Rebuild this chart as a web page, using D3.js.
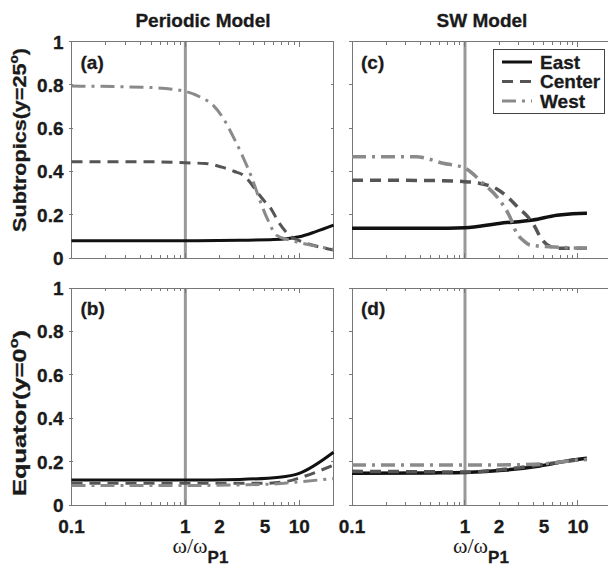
<!DOCTYPE html>
<meta charset="utf-8">
<style>
body { margin: 0; background: #fff; }
svg { display: block; font-family: "Liberation Sans", Arial, sans-serif; }
.frame { fill: none; stroke: #777; stroke-width: 1px; shape-rendering: crispEdges; }
.tick { stroke: #777; stroke-width: 1px; shape-rendering: crispEdges; }
.lbl { font-weight: bold; font-size: 19px; fill: #1a1a1a; stroke: #1a1a1a; stroke-width: 0.3px; }
.line { fill: none; }
</style>
<body>
<svg width="608" height="565"></svg>
<script src="https://d3js.org/d3.v7.min.js"></script>
<script>
// ---- data ----
var seriesNames = ["East", "Center", "West"];
var yTicks = [0, 0.2, 0.4, 0.6, 0.8, 1];
var yTickLabels = ["0", "0.2", "0.4", "0.6", "0.8", "1"];
var xTicks = [0.1, 1, 2, 5, 10];
var xTickLabels = ["0.1", "1", "2", "5", "10"];

// (a) periodic, subtropics
var aEastX = [0.1, 1, 3, 6, 8, 10, 14, 20];
var aEastY = [0.08, 0.08, 0.082, 0.085, 0.09, 0.098, 0.122, 0.152];
var aCenterX = [0.1, 0.5, 1, 1.5, 2.1, 2.7, 3.2, 3.7, 4.2, 5, 5.5, 6.7, 8.5, 10, 13, 20];
var aCenterY = [0.445, 0.445, 0.44, 0.437, 0.42, 0.40, 0.384, 0.35, 0.31, 0.26, 0.237, 0.16, 0.098, 0.08, 0.06, 0.037];
var aWestX = [0.1, 0.5, 1, 1.4, 1.75, 2.15, 2.63, 3.2, 3.8, 4.5, 5.3, 6.3, 8.2, 12, 20];
var aWestY = [0.795, 0.788, 0.77, 0.74, 0.707, 0.646, 0.561, 0.468, 0.376, 0.268, 0.176, 0.106, 0.083, 0.062, 0.04];

// (b) periodic, equator
var bEastX = [0.1, 1, 3, 6.7, 10, 20];
var bEastY = [0.115, 0.115, 0.118, 0.128, 0.146, 0.243];
var bCenterX = [0.1, 1, 5, 8, 10.8, 20];
var bCenterY = [0.1, 0.1, 0.1, 0.11, 0.13, 0.184];
var bWestX = [0.1, 1, 5, 10, 20];
var bWestY = [0.09, 0.09, 0.095, 0.107, 0.122];

// (c) SW, subtropics
var cEastX = [0.1, 0.5, 1, 2, 4, 6.5, 9, 12];
var cEastY = [0.137, 0.137, 0.14, 0.16, 0.176, 0.198, 0.205, 0.207];
var cCenterX = [0.1, 0.5, 1, 1.5, 1.9, 2.4, 3.0, 3.6, 4.1, 4.6, 5.6, 7, 12];
var cCenterY = [0.36, 0.358, 0.353, 0.34, 0.32, 0.28, 0.23, 0.19, 0.15, 0.1, 0.055, 0.045, 0.045];
var cWestX = [0.1, 0.37, 0.64, 1, 1.44, 1.96, 2.5, 2.87, 3.3, 3.76, 5.6, 12];
var cWestY = [0.468, 0.468, 0.438, 0.415, 0.346, 0.277, 0.19, 0.114, 0.08, 0.06, 0.052, 0.045];

// (d) SW, equator
var dEastX = [0.1, 0.5, 1, 2.3, 4.6, 9, 12];
var dEastY = [0.146, 0.148, 0.15, 0.161, 0.18, 0.207, 0.215];
var dCenterX = [0.1, 0.5, 1, 2.3, 4.6, 9, 12];
var dCenterY = [0.155, 0.153, 0.152, 0.165, 0.185, 0.205, 0.212];
var dWestX = [0.1, 1, 2.5, 5, 9, 12];
var dWestY = [0.184, 0.184, 0.185, 0.19, 0.205, 0.21];

var styles = {
  East:   {color: "#111", dash: null},
  Center: {color: "#555", dash: "11,7"},
  West:   {color: "#8a8a8a", dash: "14,6,3,6"}
};

function zip(xs, ys) { return xs.map(function(x, i) { return [x, ys[i]]; }); }

var svg = d3.select("svg");
var minorTicks = [];
[0.1, 1, 10].forEach(function(d) { for (var k = 1; k < 10; k++) { if (d * k <= 20) minorTicks.push(d * k); } });
minorTicks.push(20);

function panel(cfg) {
  var x = d3.scaleLog().domain([0.1, 20]).range(cfg.xr);
  var y = d3.scaleLinear().domain([0, 1]).range(cfg.yr);
  var g = svg.append("g");
  var x0 = cfg.xr[0], x1 = cfg.xr[1], y0 = cfg.yr[0], y1 = cfg.yr[1];

  // reference line at omega = omega_P1
  g.append("line").attr("x1", x(1)).attr("x2", x(1)).attr("y1", y0).attr("y2", y1)
    .attr("stroke", "#9a9a9a").attr("stroke-width", 3);

  g.append("rect").attr("class", "frame")
    .attr("x", x0).attr("y", y1).attr("width", x1 - x0).attr("height", y0 - y1);

  // x ticks top and bottom, pointing inward
  minorTicks.forEach(function(v) {
    var len = (v === 0.1 || v === 1 || v === 10) ? 5 : 3;
    g.append("line").attr("class", "tick").attr("x1", x(v)).attr("x2", x(v)).attr("y1", y0).attr("y2", y0 - len);
    g.append("line").attr("class", "tick").attr("x1", x(v)).attr("x2", x(v)).attr("y1", y1).attr("y2", y1 + len);
  });
  // y ticks
  yTicks.forEach(function(v) {
    g.append("line").attr("class", "tick").attr("x1", x0 - 3).attr("x2", x0 + 1).attr("y1", y(v)).attr("y2", y(v));
    g.append("line").attr("class", "tick").attr("x1", x1 - 3).attr("x2", x1).attr("y1", y(v)).attr("y2", y(v));
  });

  if (cfg.yLabels) {
    g.selectAll(".ytl").data(yTicks).enter().append("text")
      .attr("class", "lbl").attr("text-anchor", "end")
      .attr("x", x0 - 8).attr("y", function(d) { return y(d) + 7; })
      .text(function(d, i) { return yTickLabels[i]; });
  }
  if (cfg.xLabels) {
    g.selectAll(".xtl").data(xTicks).enter().append("text")
      .attr("class", "lbl").attr("text-anchor", "middle")
      .attr("x", function(d) { return x(d); }).attr("y", y0 + 28)
      .text(function(d, i) { return xTickLabels[i]; });
    var t = g.append("text").attr("x", x0 + 101).attr("y", 553).attr("fill", "#1a1a1a");
    t.append("tspan").attr("font-family", "'Liberation Serif', serif").attr("font-size", "22px").text("ω/ω");
    t.append("tspan").attr("font-weight", "bold").attr("font-size", "17px").attr("dy", 10)
      .attr("stroke", "#1a1a1a").attr("stroke-width", 0.3).text("P1");
  }

  g.append("text").attr("class", "lbl").attr("x", x0 + 9).attr("y", y1 + 27).text(cfg.tag);

  var line = d3.line().x(function(d) { return x(d[0]); }).y(function(d) { return y(d[1]); })
    .curve(d3.curveMonotoneX);
  seriesNames.forEach(function(name, i) {
    var s = styles[name];
    g.append("path").datum(zip(cfg.xs[i], cfg.ys[i])).attr("class", "line")
      .attr("d", line).attr("stroke", s.color).attr("stroke-width", cfg.lw)
      .attr("stroke-dasharray", s.dash);
  });
  return {x: x, y: y};
}

var topY = [258, 41.7], botY = [505, 288];
var leftX = [71.5, 333.5], rightX = [352, 612];

panel({xr: leftX, yr: topY, tag: "(a)", yLabels: true, xLabels: false, lw: 3,
  xs: [aEastX, aCenterX, aWestX], ys: [aEastY, aCenterY, aWestY]});
panel({xr: leftX, yr: botY, tag: "(b)", yLabels: true, xLabels: true, lw: 3,
  xs: [bEastX, bCenterX, bWestX], ys: [bEastY, bCenterY, bWestY]});
panel({xr: rightX, yr: topY, tag: "(c)", yLabels: false, xLabels: false, lw: 3.5,
  xs: [cEastX, cCenterX, cWestX], ys: [cEastY, cCenterY, cWestY]});
panel({xr: rightX, yr: botY, tag: "(d)", yLabels: false, xLabels: true, lw: 3.5,
  xs: [dEastX, dCenterX, dWestX], ys: [dEastY, dCenterY, dWestY]});

// column titles
svg.append("text").attr("class", "lbl").attr("font-size", "20.5px").attr("text-anchor", "middle").attr("x", 203).attr("y", 27).text("Periodic Model");
svg.append("text").attr("class", "lbl").attr("font-size", "20.5px").attr("text-anchor", "middle").attr("x", 482).attr("y", 27).text("SW Model");

// row labels, stretched along the text to the length seen in the figure
function rowLabel(cy, main, target) {
  var t = svg.append("text").attr("class", "lbl").attr("font-size", "17px")
    .attr("text-anchor", "middle");
  t.append("tspan").text(main);
  t.append("tspan").attr("dy", -8).attr("font-size", "12px").text("o");
  t.append("tspan").attr("dy", 8).text(")");
  var w = t.node().getBBox().width;
  t.attr("transform", "translate(26," + cy + ") rotate(-90) scale(" + (target / w) + ",1)");
}
rowLabel(140, "Subtropics(y=25", 184);
rowLabel(413, "Equator(y=0", 166);

// legend
var lg = svg.append("g");
lg.append("rect").attr("x", 493.5).attr("y", 49.5).attr("width", 111).attr("height", 64)
  .attr("fill", "#fff").attr("stroke", "#444").attr("stroke-width", 1);
seriesNames.forEach(function(name, i) {
  var s = styles[name];
  var yy = 62 + i * 19.5;
  lg.append("line").attr("x1", 502).attr("x2", 532).attr("y1", yy).attr("y2", yy)
    .attr("stroke", s.color).attr("stroke-width", 3).attr("stroke-dasharray", s.dash);
  lg.append("text").attr("class", "lbl").attr("font-size", "17.5px").attr("x", 540).attr("y", yy + 6.5).text(name);
});
</script>
</body>
